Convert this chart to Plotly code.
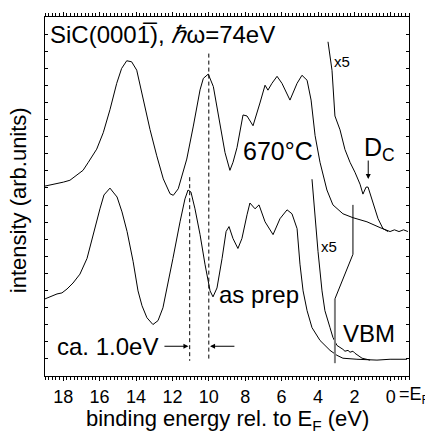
import plotly.graph_objects as go

# ---- data (binding energy in eV, intensity in arb. units) ----
e_670 = [19.00, 18.45, 17.99, 17.63, 17.26, 16.91, 16.62, 16.16, 15.80, 15.43, 15.06, 14.79, 14.51, 14.24,
         13.96, 13.60, 13.23, 12.86, 12.50, 12.13, 11.95, 11.68, 11.21, 10.85, 10.48, 10.30, 10.03, 9.75,
         9.38, 9.11, 8.84, 8.67, 8.45, 8.29, 8.12, 7.90, 7.57, 7.19, 6.91, 6.75, 6.53, 6.25, 5.98, 5.54,
         5.15, 4.88, 4.60, 4.38, 4.16, 3.89, 3.51, 3.18, 2.63, 2.08, 1.31, 0.59, 0.30, 0.04, -0.20, -0.45,
         -0.70, -0.94]
i_670 = [11.11, 11.22, 11.34, 11.45, 11.73, 12.03, 12.50, 13.27, 14.23, 15.58, 17.12, 17.99, 18.44, 18.38,
         17.89, 16.16, 14.42, 12.88, 11.53, 10.66, 10.57, 10.95, 12.69, 14.62, 16.74, 17.41, 17.66, 16.93,
         14.81, 13.07, 12.03, 12.50, 13.36, 14.23, 15.27, 15.21, 14.64, 15.97, 17.01, 16.72, 17.12, 17.53,
         17.12, 16.14, 17.12, 17.59, 17.30, 16.14, 14.06, 12.50, 10.88, 10.01, 9.49, 9.26, 9.02, 8.68,
         8.55, 8.45, 8.55, 8.45, 8.55, 8.45]

e_670_x5 = [3.45, 3.23, 3.07, 2.79, 2.52, 2.24, 1.97, 1.69, 1.53, 1.36, 1.25, 1.03, 0.87, 0.70, 0.43, 0.15]
i_670_x5 = [19.55, 17.88, 15.21, 14.40, 13.25, 12.50, 11.92, 11.22, 10.64, 11.05, 11.05, 10.36, 9.78,
            9.20, 8.62, 8.45]

e_prep = [19.00, 18.73, 18.34, 18.07, 17.79, 17.46, 17.08, 16.69, 16.36, 15.98, 15.76, 15.54, 15.43, 15.26,
          15.04, 14.77, 14.49, 14.16, 13.89, 13.67, 13.40, 13.07, 12.79, 12.52, 12.24, 11.97, 11.58, 11.31,
          11.14, 10.98, 10.76, 10.48, 10.21, 9.93, 9.77, 9.55, 9.27, 9.05, 8.89, 8.67, 8.40, 8.18, 7.90,
          7.74, 7.46, 7.24, 6.91, 6.47, 6.09, 5.70, 5.43, 5.15, 4.99, 4.82, 4.60, 4.33, 3.89, 3.34, 2.96,
          2.63, 1.86, 0.76, 0.04, -0.89]
i_prep = [4.51, 4.63, 4.80, 4.86, 5.09, 5.44, 5.96, 6.88, 8.27, 9.78, 10.59, 10.88, 10.99, 10.76,
          10.47, 9.60, 8.45, 6.71, 4.98, 4.11, 3.41, 3.01, 3.24, 3.99, 5.38, 6.88, 9.02, 10.36,
          10.88, 10.76, 9.78, 8.27, 6.54, 4.98, 4.63, 5.15, 6.88, 8.45, 8.74, 8.04, 7.46, 8.04, 9.43,
          10.12, 9.78, 10.01, 9.02, 8.27, 9.20, 9.72, 9.49, 8.62, 6.54, 4.98, 3.82, 2.83, 2.08, 1.50, 1.21,
          1.04, 0.98, 0.93, 0.98, 0.98]

e_prep_x5 = [4.33, 4.16, 4.00, 3.78, 3.62, 3.34, 3.18, 2.96, 2.79, 2.63, 2.52, 2.35, 2.24, 2.08, 1.97, 1.80,
             1.58, 1.14]
i_prep_x5 = [11.51, 9.20, 7.29, 4.98, 3.82, 2.83, 2.26, 1.79, 1.68, 1.56, 1.45, 1.50, 1.39, 1.45, 1.33, 1.21,
             1.04, 0.93]

# linear extrapolation to the valence band maximum
e_extrap = [2.08, 2.08, 3.07]
i_extrap = [10.01, 7.12, 4.51]
e_vbm = [3.07, 3.07]
i_vbm = [4.51, 0.75]

# marker lines for the ~1 eV shift
e_shift_670 = [10.0, 10.0]
i_shift_670 = [18.86, 0.89]
e_shift_prep = [11.05, 11.05]
i_shift_prep = [11.63, 0.89]

x_tickvals = [18, 16, 14, 12, 10, 8, 6, 4, 2, 0]
x_ticktext = ["18", "16", "14", "12", "10", "8", "6", "4", "2", "0"]

FONT = "Liberation Sans, Arial, sans-serif"
thin = dict(color="black", width=1)

fig = go.Figure()
fig.add_trace(go.Scatter(x=e_670, y=i_670, mode="lines", line=thin))
fig.add_trace(go.Scatter(x=e_670_x5, y=i_670_x5, mode="lines", line=thin))
fig.add_trace(go.Scatter(x=e_prep, y=i_prep, mode="lines", line=thin))
fig.add_trace(go.Scatter(x=e_prep_x5, y=i_prep_x5, mode="lines", line=thin))
fig.add_trace(go.Scatter(x=e_extrap, y=i_extrap, mode="lines", line=thin))
fig.add_trace(go.Scatter(x=e_vbm, y=i_vbm, mode="lines", line=dict(color="#7f7f7f", width=2)))
fig.add_trace(go.Scatter(x=e_shift_670, y=i_shift_670, mode="lines",
                         line=dict(color="black", width=1, dash="4px,3px")))
fig.add_trace(go.Scatter(x=e_shift_prep, y=i_shift_prep, mode="lines",
                         line=dict(color="black", width=1, dash="4px,3px")))

def txt(x, y, s, size=24, xanchor="center", yanchor="middle"):
    fig.add_annotation(x=x, y=y, xref="x", yref="y", text=s, showarrow=False,
                       xanchor=xanchor, yanchor=yanchor,
                       font=dict(family=FONT, size=size, color="black"))

txt(18.84, 19.95, "SiC(0001\u0305), <i>\u210f</i>\u03c9=74eV", size=24, xanchor="left")
txt(6.20, 13.19, "670°C", size=25)
txt(1.58, 13.30, "D<sub>C</sub>", size=25, xanchor="left")
txt(2.68, 18.40, "x5", size=15)
txt(3.40, 7.58, "x5", size=15)
txt(7.24, 4.74, "as prep", size=24)
txt(1.20, 2.49, "VBM", size=24)
txt(15.59, 1.74, "ca. 1.0eV", size=24)

def arrow(x0, y0, x1, y1):
    fig.add_annotation(x=x1, y=y1, ax=x0, ay=y0, xref="x", yref="y", axref="x", ayref="y",
                       text="", showarrow=True, arrowhead=2, arrowsize=1, arrowwidth=1,
                       arrowcolor="black", standoff=0)

arrow(12.52, 1.74, 11.12, 1.74)
arrow(8.51, 1.74, 9.93, 1.74)
arrow(1.24, 12.69, 1.24, 11.53)

fig.add_annotation(x=0.968, y=-0.055, xref="paper", yref="paper", text="=E<sub>F</sub>",
                   showarrow=False, xanchor="left", yanchor="middle",
                   font=dict(family=FONT, size=18, color="black"))
fig.add_annotation(x=0.5, y=-0.122, xref="paper", yref="paper",
                   text="binding energy rel. to E<sub>F</sub> (eV)", showarrow=False,
                   xanchor="center", yanchor="middle", font=dict(family=FONT, size=22, color="black"))
fig.add_annotation(x=-0.074, y=0.49, xref="paper", yref="paper", text="intensity (arb.units)",
                   showarrow=False, textangle=-90, xanchor="center", yanchor="middle",
                   font=dict(family=FONT, size=22, color="black"))

fig.update_layout(
    width=425, height=434,
    margin=dict(l=45, r=16, t=13, b=58),
    paper_bgcolor="white", plot_bgcolor="white",
    showlegend=False,
    font=dict(family=FONT, size=18, color="black"),
    xaxis=dict(range=[19, -1], tickvals=x_tickvals, ticktext=x_ticktext,
               ticks="outside", ticklen=4, tickwidth=1, tickcolor="black",
               minor=dict(dtick=0.2, ticks="outside", ticklen=3, tickcolor="black"),
               showline=True, linecolor="black", linewidth=1, mirror="allticks",
               showgrid=False, zeroline=False, tickfont=dict(family=FONT, size=18)),
    yaxis=dict(range=[0, 21], dtick=1, tick0=0, ticks="inside", ticklen=3, tickcolor="black",
               showticklabels=False, showline=True, linecolor="black", linewidth=1,
               mirror="allticks", showgrid=False, zeroline=False),
)

fig.write_html("out.html")
